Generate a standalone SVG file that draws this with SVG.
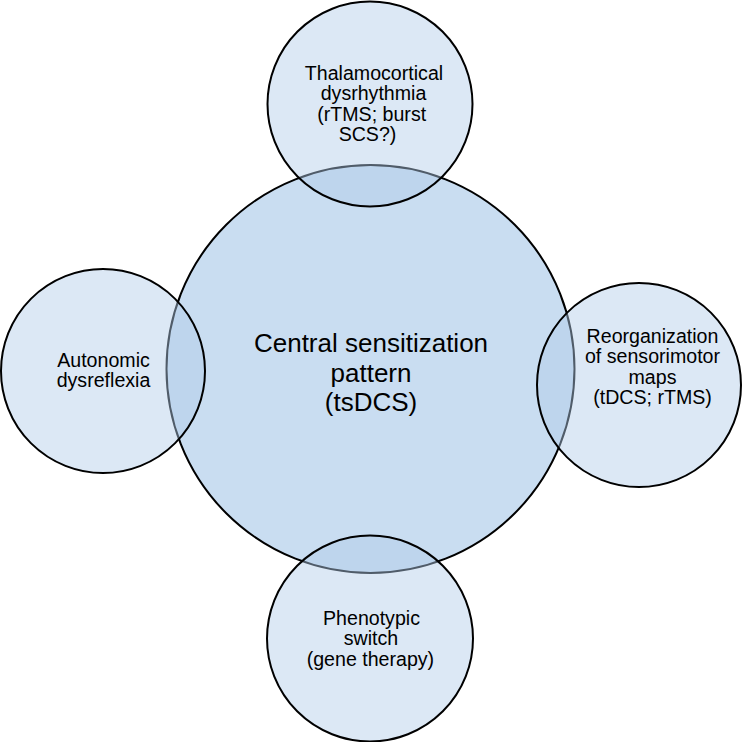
<svg xmlns="http://www.w3.org/2000/svg" width="742" height="742" viewBox="0 0 742 742">
<style>
.center{fill:#c9ddf1;stroke:#000;stroke-width:2}
.sat{fill:rgb(178,204,233);fill-opacity:0.45;stroke:#000;stroke-width:2}
text{font-family:"Liberation Sans",Arial,sans-serif;fill:#000;text-anchor:middle}
.big{font-size:26px}
.sm{font-size:19.6px}
</style>
<rect width="742" height="742" fill="#fff"/>
<g id="connectors"></g>
<g id="central">
<circle class="center" cx="370.5" cy="369" r="204"/>
<text class="big" x="371" y="352">Central sensitization</text>
<text class="big" x="371" y="381.5">pattern</text>
<text class="big" x="371" y="411">(tsDCS)</text>
</g>
<g id="thalamocortical">
<circle class="sat" cx="370" cy="104" r="102.5"/>
<text class="sm" x="374" y="80">Thalamocortical</text>
<text class="sm" x="373.5" y="100.3">dysrhythmia</text>
<text class="sm" x="371.7" y="120.6">(rTMS; burst</text>
<text class="sm" x="367.5" y="140.9">SCS?)</text>
</g>
<g id="autonomic">
<circle class="sat" cx="103" cy="371" r="102"/>
<text class="sm" x="103.5" y="367">Autonomic</text>
<text class="sm" x="103.5" y="387.3">dysreflexia</text>
</g>
<g id="reorganization">
<circle class="sat" cx="639" cy="385" r="102"/>
<text class="sm" x="652.5" y="343">Reorganization</text>
<text class="sm" x="652.5" y="363.3">of sensorimotor</text>
<text class="sm" x="652.5" y="383.6">maps</text>
<text class="sm" x="652.5" y="403.9">(tDCS; rTMS)</text>
</g>
<g id="phenotypic">
<circle class="sat" cx="370" cy="638.5" r="103"/>
<text class="sm" x="371.5" y="625">Phenotypic</text>
<text class="sm" x="371" y="645.3">switch</text>
<text class="sm" x="370.4" y="665.6">(gene therapy)</text>
</g>
</svg>
